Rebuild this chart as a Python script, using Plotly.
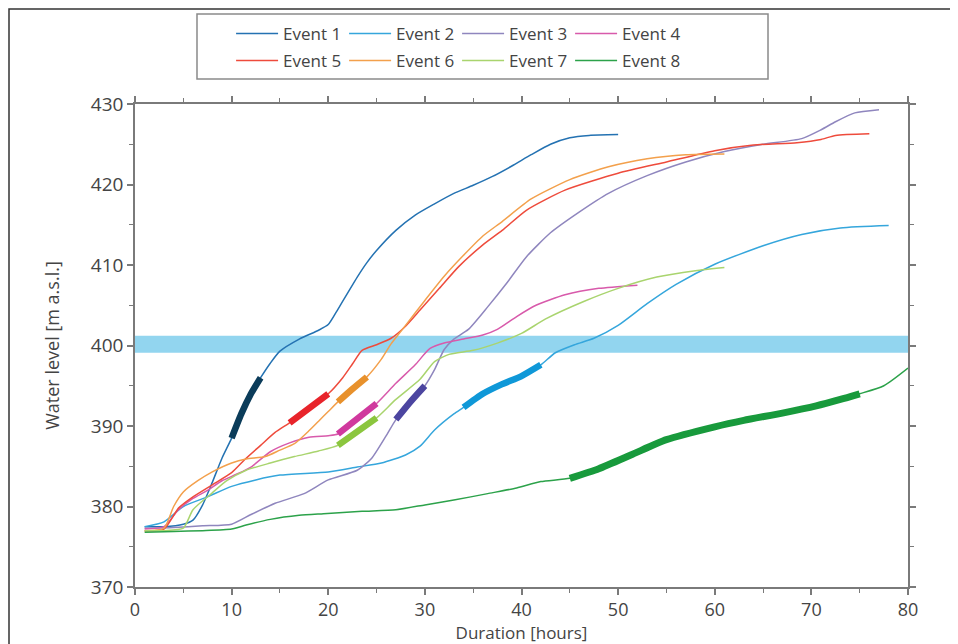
import plotly.graph_objects as go

# ---------------- data ----------------
e1_x = [1, 3, 5, 6, 7, 8, 9, 10, 11, 12, 13, 14, 15, 17, 19, 20, 21, 22, 23, 24, 25, 27, 29, 31, 33, 35, 37, 39, 41, 43, 45, 47, 50]
e1_y = [377.5, 377.5, 377.8, 378.3, 380.2, 383, 386, 388.5, 391.5, 394, 396, 397.8, 399.3, 400.8, 401.9, 402.6, 404.5, 406.5, 408.5, 410.3, 411.8, 414.3, 416.2, 417.6, 418.9, 419.9, 421, 422.3, 423.7, 425, 425.8, 426.1, 426.2]

e2_x = [1, 3, 5, 7.5, 10, 12.5, 15, 20, 23, 25.5, 28, 29.5, 31, 33, 34, 36, 38, 40, 42, 43.5, 45.5, 47.5, 50, 53, 56, 60, 65, 69, 73, 78]
e2_y = [377.5, 378.1, 380, 381.2, 382.5, 383.3, 383.9, 384.3, 384.9, 385.4, 386.4, 387.5, 389.5, 391.5, 392.3, 394, 395.2, 396.2, 397.6, 399.1, 400.1, 400.9, 402.5, 405.2, 407.6, 410.1, 412.4, 413.8, 414.6, 414.9]

e3_x = [1, 4, 7, 10, 12, 14.5, 17.5, 20, 23, 24.5, 26, 27, 28.5, 30, 31, 32, 33, 34.5, 36.5, 38.5, 40.5, 43, 46, 49, 53, 57, 61, 65, 69, 71, 72.5, 74.5, 77]
e3_y = [377.3, 377.4, 377.6, 377.8, 379, 380.4, 381.6, 383.3, 384.5, 386, 388.8, 390.8, 393, 395, 397, 399.5, 400.8, 402, 404.8, 407.8, 411, 414, 416.6, 418.9, 421.1, 422.8, 424.1, 425, 425.7, 426.8, 427.8, 428.9, 429.3]

e4_x = [1, 3, 4.5, 6, 7.5, 9, 10.5, 12, 14, 16, 18, 20, 21, 23, 25, 27, 29, 30.5, 32, 34, 36, 37.5, 39.5, 41.5, 44.5, 48, 52]
e4_y = [377.2, 377.5, 379.6, 381, 382, 383.2, 384, 384.9, 386.8, 387.9, 388.6, 388.8, 389, 390.9, 392.8, 395.3, 397.6, 399.6, 400.3, 400.8, 401.3, 402, 403.6, 405, 406.3, 407.1, 407.5]

e5_x = [1, 3, 4.5, 6, 8, 10, 11.5, 13, 14.5, 16, 18, 20, 21.5, 22.5, 23.5, 25, 26.5, 28, 29.5, 31.5, 33.5, 36, 38, 40.5, 44.5, 50, 55, 60, 64, 68.5, 71, 72.5, 76]
e5_y = [377.0, 377.2, 379.8, 381.2, 382.7, 384.2, 386, 387.6, 389.2, 390.4, 392.2, 394, 396, 397.7, 399.4, 400.1, 400.9, 402.4, 404.4, 407.1, 409.8, 412.5, 414.3, 416.8, 419.3, 421.4, 422.8, 424.2, 424.9, 425.2, 425.6, 426.1, 426.3]

e6_x = [1, 3, 4, 5, 6.5, 8, 10, 11.5, 13.5, 15, 16.5, 18, 19, 20, 21, 22.5, 24, 25.5, 26.5, 28, 30, 32, 34, 36, 38, 41, 45, 49, 53, 57, 61]
e6_y = [377.0, 377.3, 380, 381.8, 383.2, 384.3, 385.4, 385.9, 386.2, 387, 387.8, 389.4, 390.6, 391.8, 393.0, 394.6, 396.1, 398.3, 400.2, 402.5, 405.6, 408.6, 411.2, 413.6, 415.4, 418.2, 420.6, 422.2, 423.2, 423.7, 423.8]

e7_x = [1, 3, 5, 6, 8, 9.5, 11.5, 14, 16.5, 19, 21, 23, 25, 27, 29.5, 31, 32.5, 35, 37.5, 40, 42.5, 46.5, 50, 54, 58, 61]
e7_y = [377.0, 377.0, 377.3, 379.6, 381.7, 383.2, 384.5, 385.4, 386.2, 386.9, 387.6, 389.3, 391, 393.3, 395.8, 398, 398.9, 399.4, 400.3, 401.5, 403.3, 405.5, 407.1, 408.5, 409.3, 409.7]

e8_x = [1, 4, 7, 10, 11.5, 14, 17, 19.5, 23.5, 27, 30, 33, 36.5, 39.5, 42, 45, 48, 51.5, 55, 60, 63, 67, 70.5, 73, 75, 77.5, 80]
e8_y = [376.8, 376.9, 377.0, 377.2, 377.7, 378.4, 378.9, 379.1, 379.4, 379.6, 380.2, 380.8, 381.6, 382.3, 383.1, 383.5, 384.7, 386.5, 388.3, 389.9, 390.7, 391.6, 392.5, 393.3, 394, 395, 397.2]

event_names = ["Event 1", "Event 2", "Event 3", "Event 4", "Event 5", "Event 6", "Event 7", "Event 8"]
# highlighted (thick) window of each event: [start hour, end hour]
highlight_windows = [(10, 13), (34, 42), (27, 30), (21, 25), (16, 20), (21, 24), (21, 25), (45, 75)]
# threshold band of water level
band_low, band_high = 399.1, 401.2

x_ticks = [0, 10, 20, 30, 40, 50, 60, 70, 80]
y_ticks = [370, 380, 390, 400, 410, 420, 430]

# ---------------- style ----------------
thin_colors = ["#2472b2", "#35a6dc", "#8f86be", "#d85aab", "#ee4b3c", "#f3a04c", "#a9d46e", "#2ca24a"]
thick_colors = ["#0b3c5a", "#0f98d8", "#4c45a0", "#d0399e", "#e8242b", "#e8912c", "#8bc63e", "#189a3c"]
thick_widths = [6.5, 6.5, 6.5, 6.5, 6.5, 6.5, 6.5, 7]

xs = [e1_x, e2_x, e3_x, e4_x, e5_x, e6_x, e7_x, e8_x]
ys = [e1_y, e2_y, e3_y, e4_y, e5_y, e6_y, e7_y, e8_y]

FONT = "Open Sans"
TXT = "#444444"

fig = go.Figure()

for i in range(8):
    fig.add_trace(go.Scatter(
        x=xs[i], y=ys[i], mode="lines", name=event_names[i],
        line=dict(color=thin_colors[i], width=1.5, shape="spline", smoothing=0.6),
        legend="legend" if i < 4 else "legend2",
    ))

for i in range(8):
    a, b = highlight_windows[i]
    hx = [x for x in xs[i] if a <= x <= b]
    hy = [y for x, y in zip(xs[i], ys[i]) if a <= x <= b]
    fig.add_trace(go.Scatter(
        x=hx, y=hy, mode="lines", showlegend=False,
        line=dict(color=thick_colors[i], width=thick_widths[i], shape="spline", smoothing=0.6),
    ))

fig.add_shape(type="rect", xref="x", yref="y", x0=0, x1=80, y0=band_low, y1=band_high,
              fillcolor="#92d5ef", line=dict(width=0), layer="below")

# legend frame
fig.add_shape(type="rect", xref="paper", yref="paper", x0=0.0802, x1=0.8189, y0=1.0518, y1=1.1863,
              line=dict(color="#8a8a8a", width=1.5), fillcolor="rgba(0,0,0,0)")
# outer frame of the figure (left and top edges)
fig.add_shape(type="rect", xref="paper", yref="paper", x0=-0.1630, x1=1.2, y0=-0.3, y1=1.1967,
              line=dict(color="#333333", width=1.5), fillcolor="rgba(0,0,0,0)")

axis_common = dict(
    showline=True, linecolor="#7a7a7a", linewidth=1.5, mirror="ticks",
    ticks="outside", ticklen=6, tickwidth=1.5, tickcolor="#7a7a7a",
    showgrid=False, zeroline=False,
)

fig.update_xaxes(range=[0, 80], tickvals=x_ticks, title_text="Duration [hours]", title_standoff=0,
                 tickfont=dict(family=FONT, size=18, color=TXT),
                 title_font=dict(family=FONT, size=17, color=TXT),
                 minor=dict(dtick=5, ticks="outside", ticklen=4, tickcolor="#7a7a7a", tickwidth=1.2),
                 **axis_common)
fig.update_yaxes(range=[370, 430], tickvals=y_ticks, title_text="Water level [m a.s.l.]", title_standoff=27,
                 tickfont=dict(family=FONT, size=19, color=TXT),
                 title_font=dict(family=FONT, size=18, color=TXT),
                 minor=dict(dtick=5, ticks="outside", ticklen=4, tickcolor="#7a7a7a", tickwidth=1.2),
                 **axis_common)

legend_common = dict(orientation="h", xanchor="left", yanchor="middle", bgcolor="rgba(0,0,0,0)",
                     font=dict(family=FONT, size=17, color=TXT),
                     entrywidth=56, entrywidthmode="pixels", itemwidth=42, tracegroupgap=0)

# the page adds an 8 px body margin, so the figure is 8 px smaller and margins shifted by 8 px
fig.update_layout(
    width=950, height=636,
    margin=dict(l=127, r=50, t=96, b=57, autoexpand=False),
    plot_bgcolor="white", paper_bgcolor="white",
    showlegend=True,
    legend=dict(x=0.1243, y=1.145, **legend_common),
    legend2=dict(x=0.1243, y=1.089, **legend_common),
)

fig.write_html("out.html")
